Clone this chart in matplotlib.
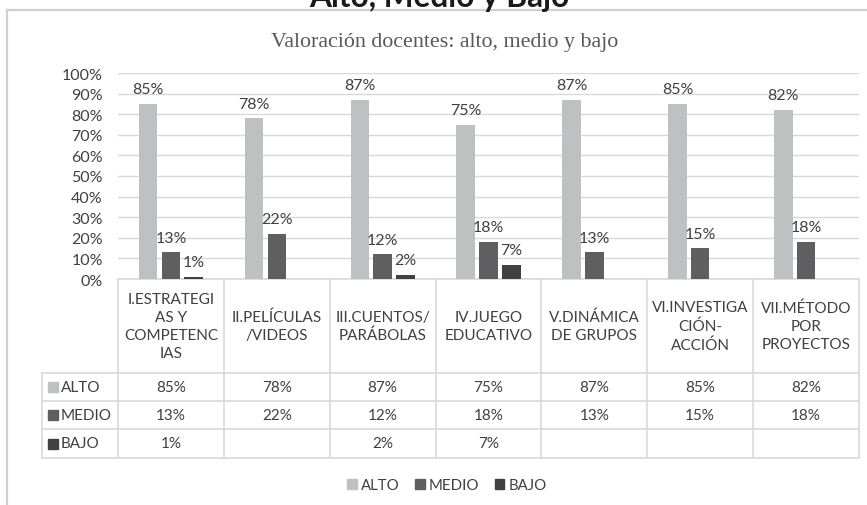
#!/usr/bin/env python3
"""Valoración docentes: alto, medio y bajo - barras con tabla de datos"""

import matplotlib
matplotlib.use("Agg")
import matplotlib.pyplot as plt
from matplotlib.lines import Line2D
from matplotlib.patches import Patch

# datos
categorias = [
    "I.ESTRATEGI\nAS Y\nCOMPETENC\nIAS",
    "II.PELÍCULAS\n/VIDEOS",
    "III.CUENTOS/\nPARÁBOLAS",
    "IV.JUEGO\nEDUCATIVO",
    "V.DINÁMICA\nDE GRUPOS",
    "VI.INVESTIGA\nCIÓN-\nACCIÓN",
    "VII.MÉTODO\nPOR\nPROYECTOS",
]
series = ["ALTO", "MEDIO", "BAJO"]
alto = [0.85, 0.78, 0.87, 0.75, 0.87, 0.85, 0.82]
medio = [0.13, 0.22, 0.12, 0.18, 0.13, 0.15, 0.18]
bajo = [0.01, None, 0.02, 0.07, None, None, None]
yticks = [0.0, 0.1, 0.2, 0.3, 0.4, 0.5, 0.6, 0.7, 0.8, 0.9, 1.0]

colores = ["#bfc0c2", "#5f5f61", "#414143"]
TXT = "#404040"
GRID = "#d9d9d9"

plt.rcParams["font.family"] = ["Lato", "DejaVu Sans"]

W, H = 867, 506
fig = plt.figure(figsize=(W / 100, H / 100), dpi=100)

# marco exterior (recortado a la derecha y abajo)
fig.add_artist(Line2D([7 / W, 7 / W], [0, 1 - 11 / H], color="#d0d0d0", lw=1.6))
fig.add_artist(Line2D([7 / W, 1], [1 - 11 / H, 1 - 11 / H], color="#d0d0d0", lw=1.6))

# titulo (cortado arriba en la imagen original)
fig.text(439 / W, 1 - 7 / H, "Alto, Medio y Bajo", ha="center", va="baseline",
         fontsize=22.8, fontweight="bold", color="#1a1a1a")
fig.text(445 / W, 1 - 43 / H, "Valoración docentes: alto, medio y bajo", ha="center",
         va="center", fontsize=15.8, family="Liberation Serif", color="#595959")

# area de barras
left, right, top, bottom = 118, 859, 74, 280
ax = fig.add_axes([left / W, 1 - bottom / H, (right - left) / W, (bottom - top) / H])

n = len(categorias)
x = list(range(n))
ancho = 0.175
desp = [-0.215, 0.0, 0.215]
valores = [alto, medio, bajo]

for k, vals in enumerate(valores):
    for i, v in enumerate(vals):
        if v is None:
            continue
        ax.bar(x[i] + desp[k], v, width=ancho, color=colores[k], zorder=3)
        ax.annotate(f"{round(v * 100)}%", (x[i] + desp[k], v), xytext=(0, 10.5),
                    textcoords="offset points", ha="center", va="center",
                    fontsize=11.5, color=TXT)

ax.set_xlim(-0.5, n - 0.5)
ax.set_ylim(0, 1)
ax.set_yticks(yticks)
ax.set_yticklabels([f"{round(t * 100)}%" for t in yticks])
ax.tick_params(axis="y", length=0, pad=11, labelsize=11.5, labelcolor=TXT)
ax.set_xticks([])
ax.grid(axis="y", color=GRID, lw=1, zorder=0)
for s in ax.spines.values():
    s.set_visible(False)

# tabla de datos (x en datos, y en fraccion de ejes)
tr = ax.get_xaxis_transform()
px = bottom - top  # alto del eje en pixeles


def fy(ypx):
    return (bottom - ypx) / px


filas_px = [280, 374, 402, 430, 459]
px_cat = (right - left) / n
x_etq = -0.5 - (left - 42) / px_cat
lk = dict(color=GRID, lw=1.2, transform=tr, clip_on=False, zorder=1)

ax.plot([-0.5, n - 0.5], [fy(filas_px[0])] * 2, **lk)
for yp in filas_px[1:]:
    ax.plot([x_etq, n - 0.5], [fy(yp)] * 2, **lk)
for k in range(n + 1):
    ax.plot([k - 0.5, k - 0.5], [fy(filas_px[0]), fy(filas_px[-1])], **lk)
ax.plot([x_etq, x_etq], [fy(filas_px[1]), fy(filas_px[-1])], **lk)

yc_head = fy((filas_px[0] + filas_px[1]) / 2)
for i, cat in enumerate(categorias):
    ax.text(x[i], yc_head, cat, transform=tr, ha="center", va="center",
            fontsize=11, color=TXT, linespacing=1.38, clip_on=False)

for k, (nombre, vals) in enumerate(zip(series, valores)):
    yc = fy((filas_px[k + 1] + filas_px[k + 2]) / 2)
    ax.plot([-0.5 - (left - 52.5) / px_cat], [yc], marker="s", ms=6.5, color=colores[k],
            transform=tr, clip_on=False, ls="none")
    ax.text(-0.5 - (left - 61) / px_cat, yc, nombre, transform=tr, ha="left", va="center",
            fontsize=11, color=TXT, clip_on=False)
    for i, v in enumerate(vals):
        if v is None:
            continue
        ax.text(x[i], yc, f"{round(v * 100)}%", transform=tr, ha="center", va="center",
                fontsize=11, color=TXT, clip_on=False)

# leyenda
handles = [Patch(color=c, label=s) for c, s in zip(colores, series)]
fig.legend(handles=handles, loc="center", bbox_to_anchor=(447 / W, 1 - 486 / H), ncol=3,
           frameon=False, fontsize=10.8, labelcolor=TXT, handlelength=0.65,
           handleheight=0.65, handletextpad=0.3, columnspacing=1.0)

fig.savefig("out.png", dpi=100)
plt.close(fig)
